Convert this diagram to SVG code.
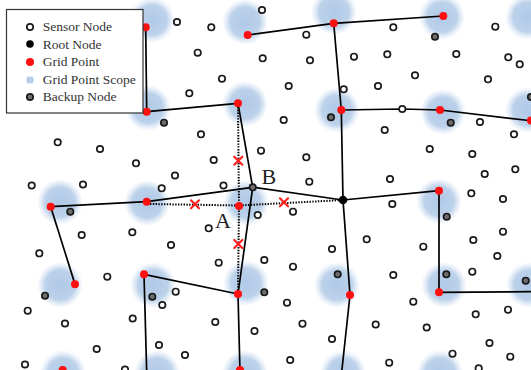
<svg xmlns="http://www.w3.org/2000/svg" width="531" height="370" viewBox="0 0 531 370">
<style>
.s{fill:#fff;stroke:#1a1a1a;stroke-width:1.7}
.b{fill:#6e6e6e;stroke:#1a1a1a;stroke-width:1.7}
.g{fill:#ff1010}
.r{fill:#000}
.sc{fill:url(#blob)}
.ln{fill:none;stroke:#000;stroke-width:1.7;stroke-linejoin:round}
.dt{fill:none;stroke:#000;stroke-width:2;stroke-dasharray:1.4 1.4}
.x{stroke:#ff2020;stroke-width:2.2;stroke-linecap:round}
.lt{font-family:"Liberation Serif","Times New Roman",serif;font-size:13.5px;fill:#333}
.lab{font-family:"Liberation Serif","Times New Roman",serif;font-size:22px;fill:#222}
</style>
<defs>
<radialGradient id="blob">
<stop offset="0" stop-color="#abc6e6" stop-opacity="0.95"/>
<stop offset="0.65" stop-color="#b1cae7" stop-opacity="0.85"/>
<stop offset="1" stop-color="#c8daef" stop-opacity="0"/>
</radialGradient>
<g id="xm"><line x1="-4" y1="-4" x2="4" y2="4"/><line x1="-4" y1="4" x2="4" y2="-4"/></g>
</defs>
<rect width="531" height="370" fill="#fff"/>
<g id="scopes">
<circle class="sc" cx="152" cy="20" r="23"/>
<circle class="sc" cx="245" cy="22" r="23"/>
<circle class="sc" cx="334" cy="12" r="23"/>
<circle class="sc" cx="442" cy="17" r="23"/>
<circle class="sc" cx="528" cy="17" r="23"/>
<circle class="sc" cx="148" cy="108" r="23"/>
<circle class="sc" cx="245" cy="104" r="23"/>
<circle class="sc" cx="337" cy="110" r="23"/>
<circle class="sc" cx="443" cy="112" r="23"/>
<circle class="sc" cx="528" cy="110" r="23"/>
<circle class="sc" cx="60" cy="202" r="23"/>
<circle class="sc" cx="147" cy="203" r="23"/>
<circle class="sc" cx="246" cy="203" r="23"/>
<circle class="sc" cx="439" cy="201" r="23"/>
<circle class="sc" cx="60" cy="285" r="23"/>
<circle class="sc" cx="153" cy="285" r="23"/>
<circle class="sc" cx="246" cy="283" r="23"/>
<circle class="sc" cx="337" cy="285" r="23"/>
<circle class="sc" cx="444" cy="285" r="23"/>
<circle class="sc" cx="529" cy="285" r="23"/>
<circle class="sc" cx="63" cy="373" r="23"/>
<circle class="sc" cx="157" cy="373" r="23"/>
<circle class="sc" cx="245" cy="373" r="23"/>
<circle class="sc" cx="343" cy="373" r="23"/>
<circle class="sc" cx="440" cy="373" r="23"/>
</g>
<g id="connectors">
<polyline class="ln" points="247.7,35 333.7,23.3 443.3,16"/>
<polyline class="ln" points="333.7,23.3 341.3,110 343,200 350,295 341.7,372"/>
<polyline class="ln" points="145.7,27.3 146.7,111.7 238,103.3"/>
<polyline class="ln" points="238,103.3 252.7,187.3 238,294 240,372"/>
<polyline class="ln" points="50.7,206.7 146.7,201.7 252.7,187.3 343,200"/>
<polyline class="ln" points="341.3,110 402.3,109 440,110 533,121"/>
<polyline class="ln" points="343,200 439,190.7 439,292.3 533,291.7"/>
<polyline class="ln" points="50.7,206.7 75,284.3"/>
<polyline class="ln" points="238,294 144,274.3 146.7,372"/>
<polyline class="dt" points="150,204 239,205.5 343,200"/>
<polyline class="dt" points="238,107 239,206 238,290"/>
</g>
<g id="sensors">
<g id="s1"><circle class="s" cx="177" cy="22" r="3.2"/></g>
<g id="s2"><circle class="s" cx="262" cy="10" r="3.2"/></g>
<g id="s3"><circle class="s" cx="211.3" cy="27.3" r="3.2"/></g>
<g id="s4"><circle class="s" cx="306.3" cy="34.7" r="3.2"/></g>
<g id="s5"><circle class="s" cx="197.7" cy="52.7" r="3.2"/></g>
<g id="s6"><circle class="s" cx="262.7" cy="58.3" r="3.2"/></g>
<g id="s7"><circle class="s" cx="310" cy="60.3" r="3.2"/></g>
<g id="s8"><circle class="s" cx="354" cy="56.7" r="3.2"/></g>
<g id="s9"><circle class="s" cx="222" cy="78.7" r="3.2"/></g>
<g id="s10"><circle class="s" cx="288.7" cy="86" r="3.2"/></g>
<g id="s11"><circle class="s" cx="189.3" cy="93.3" r="3.2"/></g>
<g id="s12"><circle class="s" cx="343.7" cy="89.3" r="3.2"/></g>
<g id="s13"><circle class="s" cx="393.3" cy="27.3" r="3.2"/></g>
<g id="s14"><circle class="s" cx="495.3" cy="26.7" r="3.2"/></g>
<g id="s15"><circle class="s" cx="387.3" cy="54.3" r="3.2"/></g>
<g id="s16"><circle class="s" cx="456.3" cy="54" r="3.2"/></g>
<g id="s17"><circle class="s" cx="508.3" cy="57.3" r="3.2"/></g>
<g id="s18"><circle class="s" cx="519.7" cy="64.3" r="3.2"/></g>
<g id="s19"><circle class="s" cx="415" cy="75.3" r="3.2"/></g>
<g id="s20"><circle class="s" cx="378" cy="86" r="3.2"/></g>
<g id="s21"><circle class="s" cx="488" cy="79.3" r="3.2"/></g>
<g id="s22"><circle class="s" cx="57.7" cy="142.3" r="3.2"/></g>
<g id="s23"><circle class="s" cx="100" cy="149" r="3.2"/></g>
<g id="s24"><circle class="s" cx="136" cy="163.3" r="3.2"/></g>
<g id="s25"><circle class="s" cx="175" cy="175.5" r="3.2"/></g>
<g id="s26"><circle class="s" cx="31.7" cy="185.5" r="3.2"/></g>
<g id="s27"><circle class="s" cx="83" cy="184.5" r="3.2"/></g>
<g id="s28"><circle class="s" cx="201" cy="134.3" r="3.2"/></g>
<g id="s29"><circle class="s" cx="283.7" cy="120" r="3.2"/></g>
<g id="s30"><circle class="s" cx="261" cy="150.7" r="3.2"/></g>
<g id="s31"><circle class="s" cx="213.7" cy="160" r="3.2"/></g>
<g id="s32"><circle class="s" cx="306.3" cy="157.3" r="3.2"/></g>
<g id="s33"><circle class="s" cx="309.3" cy="181.7" r="3.2"/></g>
<g id="s34"><circle class="s" cx="223.5" cy="185.5" r="3.2"/></g>
<g id="s35"><circle class="s" cx="161.7" cy="188.3" r="3.2"/></g>
<g id="s36"><circle class="s" cx="402.3" cy="109" r="3.2"/></g>
<g id="s37"><circle class="s" cx="384.7" cy="130" r="3.2"/></g>
<g id="s38"><circle class="s" cx="429.7" cy="149" r="3.2"/></g>
<g id="s39"><circle class="s" cx="472.3" cy="154" r="3.2"/></g>
<g id="s40"><circle class="s" cx="390" cy="179" r="3.2"/></g>
<g id="s41"><circle class="s" cx="484.7" cy="174" r="3.2"/></g>
<g id="s42"><circle class="s" cx="515.3" cy="169.3" r="3.2"/></g>
<g id="s43"><circle class="s" cx="480" cy="122" r="3.2"/></g>
<g id="s44"><circle class="s" cx="514" cy="134.3" r="3.2"/></g>
<g id="s45"><circle class="s" cx="81.7" cy="235" r="3.2"/></g>
<g id="s46"><circle class="s" cx="132.3" cy="232.3" r="3.2"/></g>
<g id="s47"><circle class="s" cx="171" cy="245" r="3.2"/></g>
<g id="s48"><circle class="s" cx="39.3" cy="253.3" r="3.2"/></g>
<g id="s49"><circle class="s" cx="107.3" cy="276.7" r="3.2"/></g>
<g id="s50"><circle class="s" cx="162.3" cy="305" r="3.2"/></g>
<g id="s51"><circle class="s" cx="175.7" cy="291.7" r="3.2"/></g>
<g id="s52"><circle class="s" cx="293" cy="211.7" r="3.2"/></g>
<g id="s53"><circle class="s" cx="257.7" cy="215" r="3.2"/></g>
<g id="s54"><circle class="s" cx="208.7" cy="228.3" r="3.2"/></g>
<g id="s55"><circle class="s" cx="332" cy="249" r="3.2"/></g>
<g id="s56"><circle class="s" cx="218.7" cy="262.7" r="3.2"/></g>
<g id="s57"><circle class="s" cx="264.3" cy="260" r="3.2"/></g>
<g id="s58"><circle class="s" cx="293" cy="266.7" r="3.2"/></g>
<g id="s59"><circle class="s" cx="287" cy="302.7" r="3.2"/></g>
<g id="s60"><circle class="s" cx="392.3" cy="204" r="3.2"/></g>
<g id="s61"><circle class="s" cx="471.3" cy="193.3" r="3.2"/></g>
<g id="s62"><circle class="s" cx="503" cy="199" r="3.2"/></g>
<g id="s63"><circle class="s" cx="366.7" cy="239.3" r="3.2"/></g>
<g id="s64"><circle class="s" cx="423.3" cy="246.7" r="3.2"/></g>
<g id="s65"><circle class="s" cx="473.3" cy="240" r="3.2"/></g>
<g id="s66"><circle class="s" cx="503" cy="231.7" r="3.2"/></g>
<g id="s67"><circle class="s" cx="497.3" cy="256" r="3.2"/></g>
<g id="s68"><circle class="s" cx="472.3" cy="271.7" r="3.2"/></g>
<g id="s69"><circle class="s" cx="393.3" cy="275" r="3.2"/></g>
<g id="s70"><circle class="s" cx="27.7" cy="310.7" r="3.2"/></g>
<g id="s71"><circle class="s" cx="65" cy="323.5" r="3.2"/></g>
<g id="s72"><circle class="s" cx="132.7" cy="318.5" r="3.2"/></g>
<g id="s73"><circle class="s" cx="96.7" cy="349" r="3.2"/></g>
<g id="s74"><circle class="s" cx="159" cy="345" r="3.2"/></g>
<g id="s75"><circle class="s" cx="25" cy="364.5" r="3.2"/></g>
<g id="s76"><circle class="s" cx="125" cy="369.5" r="3.2"/></g>
<g id="s77"><circle class="s" cx="215.3" cy="322" r="3.2"/></g>
<g id="s78"><circle class="s" cx="254.5" cy="331" r="3.2"/></g>
<g id="s79"><circle class="s" cx="302.5" cy="323.7" r="3.2"/></g>
<g id="s80"><circle class="s" cx="332" cy="339" r="3.2"/></g>
<g id="s81"><circle class="s" cx="185" cy="355" r="3.2"/></g>
<g id="s82"><circle class="s" cx="290.2" cy="360" r="3.2"/></g>
<g id="s83"><circle class="s" cx="413.3" cy="301.7" r="3.2"/></g>
<g id="s84"><circle class="s" cx="475.7" cy="314.3" r="3.2"/></g>
<g id="s85"><circle class="s" cx="508" cy="309.7" r="3.2"/></g>
<g id="s86"><circle class="s" cx="375.7" cy="324.5" r="3.2"/></g>
<g id="s87"><circle class="s" cx="426.7" cy="327.5" r="3.2"/></g>
<g id="s88"><circle class="s" cx="489.5" cy="343" r="3.2"/></g>
<g id="s89"><circle class="s" cx="452.5" cy="353.7" r="3.2"/></g>
<g id="s90"><circle class="s" cx="510.3" cy="356.7" r="3.2"/></g>
<g id="s91"><circle class="s" cx="389.2" cy="362.7" r="3.2"/></g>
<g id="s92"><circle class="s" cx="478.7" cy="368.3" r="3.2"/></g>
</g>
<g id="backups">
<g id="bk1"><circle class="b" cx="435" cy="36.7" r="3.2"/></g>
<g id="bk2"><circle class="b" cx="164" cy="122.7" r="3.2"/></g>
<g id="bk3"><circle class="b" cx="331" cy="117.3" r="3.2"/></g>
<g id="bk4"><circle class="b" cx="450.7" cy="122.7" r="3.2"/></g>
<g id="bk5"><circle class="b" cx="70.3" cy="211.7" r="3.2"/></g>
<g id="bk6"><circle class="b" cx="45" cy="295.7" r="3.2"/></g>
<g id="bk7"><circle class="b" cx="152.3" cy="296.7" r="3.2"/></g>
<g id="bk8"><circle class="b" cx="337.7" cy="274.3" r="3.2"/></g>
<g id="bk9"><circle class="b" cx="264.3" cy="292.3" r="3.2"/></g>
<g id="bk10"><circle class="b" cx="446.7" cy="216.7" r="3.2"/></g>
<g id="bk11"><circle class="b" cx="446.3" cy="274.3" r="3.2"/></g>
<g id="bk12"><circle class="b" cx="525.7" cy="280.7" r="3.2"/></g>
<g id="bk13"><circle class="b" cx="531" cy="97" r="3.2"/></g>
<g id="nodeB"><circle class="b" cx="252.7" cy="187.3" r="3.2"/></g>
</g>
<g id="grid">
<g id="g1"><circle class="g" cx="145.7" cy="27.3" r="4"/></g>
<g id="g2"><circle class="g" cx="247.7" cy="35" r="4"/></g>
<g id="g3"><circle class="g" cx="333.7" cy="23.3" r="4"/></g>
<g id="g4"><circle class="g" cx="443.3" cy="16" r="4"/></g>
<g id="g5"><circle class="g" cx="531" cy="120.5" r="4"/></g>
<g id="g6"><circle class="g" cx="146.7" cy="111.7" r="4"/></g>
<g id="g7"><circle class="g" cx="238" cy="103.3" r="4"/></g>
<g id="g8"><circle class="g" cx="341.3" cy="110" r="4"/></g>
<g id="g9"><circle class="g" cx="440" cy="110" r="4"/></g>
<g id="g10"><circle class="g" cx="50.7" cy="206.7" r="4"/></g>
<g id="g11"><circle class="g" cx="146.7" cy="201.7" r="4"/></g>
<g id="nodeA"><circle class="g" cx="239" cy="206" r="4"/></g>
<g id="g13"><circle class="g" cx="439" cy="190.7" r="4"/></g>
<g id="g14"><circle class="g" cx="75" cy="284.3" r="4"/></g>
<g id="g15"><circle class="g" cx="144" cy="274.3" r="4"/></g>
<g id="g16"><circle class="g" cx="238" cy="294" r="4"/></g>
<g id="g17"><circle class="g" cx="350" cy="295" r="4"/></g>
<g id="g18"><circle class="g" cx="439" cy="292.3" r="4"/></g>
<g id="g19"><circle class="g" cx="62.7" cy="370" r="4"/></g>
<g id="g20"><circle class="g" cx="240" cy="370" r="4"/></g>
</g>
<g id="root"><circle class="r" cx="343" cy="200" r="4.3"/></g>
<g id="failures">
<use href="#xm" class="x" x="238.3" y="160.7"/>
<use href="#xm" class="x" x="195" y="204.3"/>
<use href="#xm" class="x" x="284" y="202.3"/>
<use href="#xm" class="x" x="238.3" y="244"/>
</g>
<g id="labels">
<text class="lab" x="215" y="228">A</text>
<text class="lab" x="261.5" y="184">B</text>
</g>
<g id="legend">
<rect x="6.5" y="9.5" width="136.5" height="103.5" fill="#fff" stroke="#333" stroke-width="1.2"/>
<circle class="s" cx="30" cy="27" r="3.2"/>
<circle class="r" cx="30" cy="44" r="3.8"/>
<circle class="g" cx="30" cy="62" r="4"/>
<rect x="26.5" y="76.5" width="7" height="7" rx="2" fill="#b6cde8"/>
<circle class="b" cx="30" cy="97" r="3.2"/>
<text class="lt" x="42.7" y="31">Sensor Node</text>
<text class="lt" x="42.7" y="48.5">Root Node</text>
<text class="lt" x="42.7" y="66">Grid Point</text>
<text class="lt" x="42.7" y="83.5">Grid Point Scope</text>
<text class="lt" x="42.7" y="101">Backup Node</text>
</g>
</svg>
